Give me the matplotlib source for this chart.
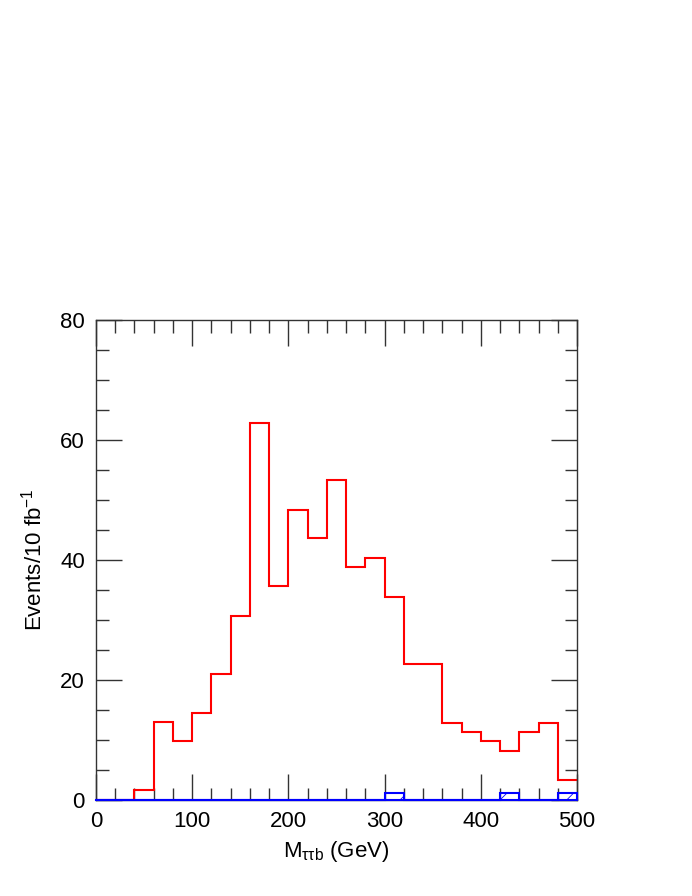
import numpy as np
import matplotlib
matplotlib.use("Agg")
import matplotlib.pyplot as plt
from matplotlib.ticker import MultipleLocator

plt.rcParams['font.family'] = ['Liberation Sans', 'DejaVu Sans']
plt.rcParams['hatch.linewidth'] = 0.6
plt.rcParams['mathtext.fontset'] = 'custom'
plt.rcParams['mathtext.rm'] = 'Liberation Sans'
plt.rcParams['mathtext.it'] = 'Liberation Sans'

bin_edges = list(range(0, 520, 20))
signal = [0, 0, 1.6, 13.0, 9.8, 14.5, 21.0, 30.7, 62.9, 35.6, 48.4, 43.7, 53.3,
          38.8, 40.4, 33.9, 22.6, 22.6, 12.9, 11.4, 9.8, 8.2, 11.4, 12.9, 3.4]
background = [0, 0, 0, 0, 0, 0, 0, 0, 0, 0, 0, 0, 0, 0, 0, 1.2, 0, 0, 0, 0, 0, 1.2, 0, 0, 1.2]

fig = plt.figure(figsize=(6.92, 8.96), dpi=100)
ax = fig.add_axes([0.1387, 0.1071, 0.6951, 0.5358])

edges = np.array(bin_edges)
ax.stairs(signal, edges, color='#ff0000', linewidth=1.5, baseline=None, zorder=2)
ax.stairs(background, edges, color='#0000ff', linewidth=1.5, fill=False,
          hatch='/', baseline=0, zorder=3, clip_on=False)
ax.plot([edges[0], edges[-1]], [0, 0], color='#0000ff', linewidth=1.5,
        zorder=4, clip_on=False)

ax.set_xlim(0, 500)
ax.set_ylim(0, 80)
ax.xaxis.set_major_locator(MultipleLocator(100))
ax.xaxis.set_minor_locator(MultipleLocator(20))
ax.yaxis.set_major_locator(MultipleLocator(20))
ax.yaxis.set_minor_locator(MultipleLocator(5))
ax.tick_params(which='both', direction='in', top=True, right=True,
               labelsize=16, color='#333333', width=1.0)
ax.tick_params(which='major', length=19, pad=8)
ax.tick_params(which='minor', length=9)
for s in ax.spines.values():
    s.set_color('#333333')
    s.set_linewidth(1.0)

ax.set_xlabel(r'M$_{\tau\tau \mathrm{b}}$ (GeV)', fontsize=16, labelpad=5)
ax.set_ylabel(r'Events/10 fb$^{\mathrm{-1}}$', fontsize=16, labelpad=10)

fig.savefig('out.png', dpi=100)
